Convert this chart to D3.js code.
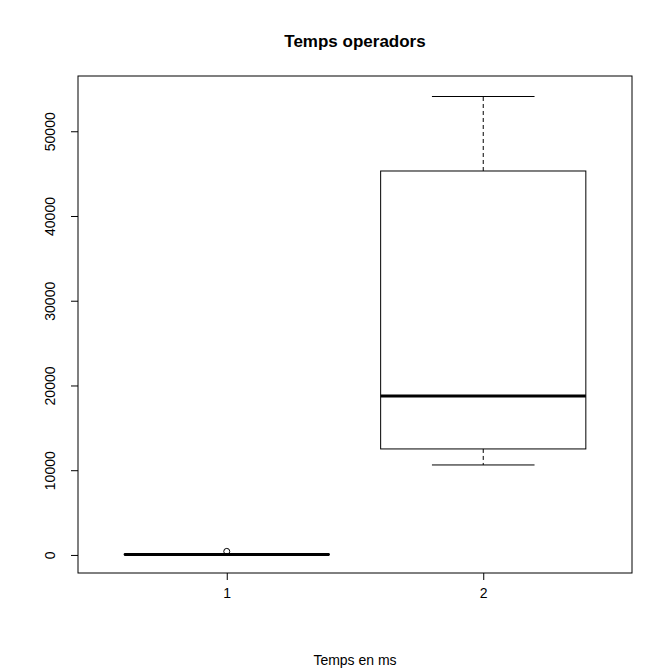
<!DOCTYPE html>
<html><head><meta charset="utf-8">
<script src="https://cdn.jsdelivr.net/npm/d3@7"></script>
<style>body{margin:0;background:#fff}</style></head>
<body><script>
const groups = ["1", "2"];
// [lower whisker, Q1, median, Q3, upper whisker]
const stats = [[20, 40, 60, 90, 130], [10620, 12510, 18760, 45310, 54100]];
const outliers = [[420], []];
const yTicks = [0, 10000, 20000, 30000, 40000, 50000];

const W = 672, H = 671, L = 78, R = 632, T = 76, B = 573;
const svg = d3.select("body").append("svg").attr("width", W).attr("height", H)
  .style("font-family", "Liberation Sans, Arial, sans-serif");
const x = d3.scaleLinear().domain([0.42, 2.58]).range([L, R]);
const y = d3.scaleLinear().domain([-2130, 56520]).range([B, T]);

svg.append("rect").attr("x", L).attr("y", T).attr("width", R - L).attr("height", B - T)
  .attr("fill", "none").attr("stroke", "#000");

svg.append("g").attr("transform", `translate(${L},0)`)
  .call(d3.axisLeft(y).tickValues(yTicks).tickSize(7).tickSizeOuter(0).tickFormat(d3.format("d")))
  .call(g => { g.select(".domain").remove();
    g.selectAll("text").attr("font-size", 14).attr("fill", "#000")
      .attr("transform", "rotate(-90)").attr("x", 0).attr("y", -23).attr("dy", 0)
      .attr("text-anchor", "middle"); });

svg.append("g").attr("transform", `translate(0,${B})`)
  .call(d3.axisBottom(x).tickValues([1, 2]).tickSize(7).tickSizeOuter(0).tickFormat((d, i) => groups[i]))
  .call(g => { g.select(".domain").remove();
    g.selectAll("text").attr("font-size", 14).attr("fill", "#000").attr("y", 12).attr("dy", "0.9em"); });

stats.forEach((s, i) => {
  const c = x(i + 1), hw = x(0.4) - x(0), cw = hw / 2;
  const g = svg.append("g").attr("stroke", "#000").attr("fill", "none");
  g.append("line").attr("x1", c).attr("x2", c).attr("y1", y(s[3])).attr("y2", y(s[4])).attr("stroke-dasharray", "4,3");
  g.append("line").attr("x1", c).attr("x2", c).attr("y1", y(s[1])).attr("y2", y(s[0])).attr("stroke-dasharray", "4,3");
  g.append("line").attr("x1", c - cw).attr("x2", c + cw).attr("y1", y(s[4])).attr("y2", y(s[4]));
  g.append("line").attr("x1", c - cw).attr("x2", c + cw).attr("y1", y(s[0])).attr("y2", y(s[0]));
  g.append("rect").attr("x", c - hw).attr("width", 2 * hw).attr("y", y(s[3])).attr("height", y(s[1]) - y(s[3]));
  g.append("line").attr("x1", c - hw).attr("x2", c + hw).attr("y1", y(s[2])).attr("y2", y(s[2])).attr("stroke-width", 3);
  outliers[i].forEach(o => g.append("circle").attr("cx", c).attr("cy", y(o)).attr("r", 3));
});

svg.append("text").attr("x", (L + R) / 2).attr("y", 47).attr("text-anchor", "middle")
  .attr("font-weight", "bold").attr("font-size", 17).text("Temps operadors");
svg.append("text").attr("x", (L + R) / 2).attr("y", 665).attr("text-anchor", "middle")
  .attr("font-size", 14).text("Temps en ms");
</script></body></html>
